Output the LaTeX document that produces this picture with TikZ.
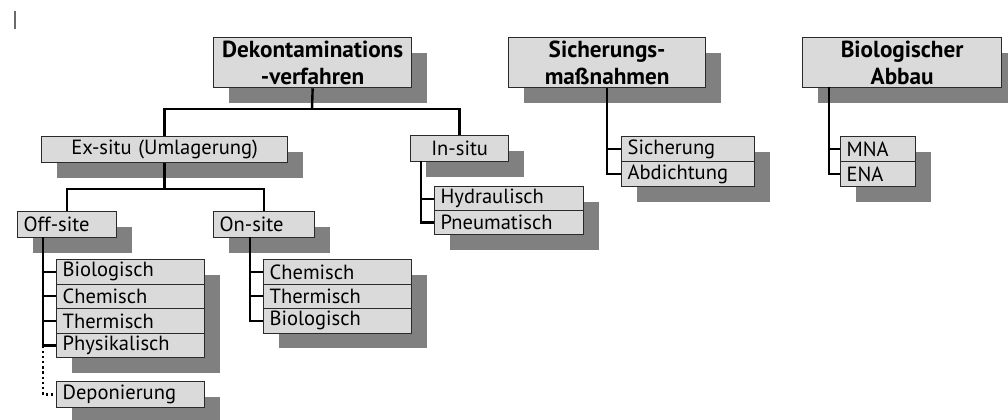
\documentclass[tikz,border=0pt]{standalone}
\usepackage{fontspec}
\setmainfont{PT Sans}
\usetikzlibrary{positioning, shadows}
\definecolor{boxfill}{HTML}{DADADA}
\definecolor{boxline}{HTML}{2A2A2A}
\definecolor{shadowgray}{HTML}{808080}

\begin{document}
\begin{tikzpicture}[x=0.025cm, y=-0.025cm,
  box/.style={draw=boxline, line width=0.9pt, fill=boxfill, anchor=north west, inner ysep=0pt,
    general shadow={fill=shadowgray, shadow xshift=10.6pt, shadow yshift=-10.6pt}},
  head/.style={box, font=\bfseries\fontsize{16.5}{19}\selectfont, align=center, inner xsep=0pt,
    text width=#1, minimum height=1.25cm},
  cat/.style={box, font=\fontsize{14.6}{16}\selectfont, inner xsep=0.15cm, text width=#1, minimum height=0.65cm},
  ele/.style={box, font=\fontsize{14.6}{16}\selectfont, inner xsep=0.15cm, align=left, text width=#1, minimum height=0.6125cm},
  conn/.style={line width=1.7pt, black},
  tick/.style={line width=1.4pt, black}]
  \useasboundingbox (0,0) rectangle (1008,420);
  \draw[line width=1.3pt, boxline!70] (15,11) -- (15,29);

  % top level
  \node[head=4.95cm] (dekon) at (213,37) {Dekontaminations\\-verfahren};
  \node[head=4.925cm] (sich) at (508,37) {Sicherungs-\\maßnahmen};
  \node[head=4.975cm] (bio) at (802,37) {Biologischer\\Abbau};

  % second level
  \node[cat=5.85cm, align=center] (exsitu) at (41,136) {Ex-situ (Umlagerung)};
  \node[cat=2.15cm, align=center] (insitu) at (410,135) {In-situ};
  \node[cat=2.175cm, align=left] (offsite) at (17,211) {Off-site};
  \node[cat=2.225cm, align=left] (onsite) at (213,211) {On-site};

  % lists
  \node[ele=3.4cm] (off1) at (56,259) {Biologisch};
  \node[ele=3.4cm] (off2) at (56,283.5) {Chemisch};
  \node[ele=3.4cm] (off3) at (56,308) {Thermisch};
  \node[ele=3.4cm] (off4) at (56,332.5) {Physikalisch};
  \node[ele=3.4cm, minimum height=0.65cm] (depo) at (56,381) {Deponierung};

  \node[ele=3.4cm] (on1) at (263,259) {Chemisch};
  \node[ele=3.4cm] (on2) at (263,283.5) {Thermisch};
  \node[ele=3.4cm] (on3) at (263,308) {Biologisch};

  \node[ele=3.425cm, minimum height=0.6cm] (in1) at (434,186) {Hydraulisch};
  \node[ele=3.425cm, minimum height=0.6cm] (in2) at (434,210) {Pneumatisch};

  \node[ele=3.025cm, minimum height=0.625cm] (sich1) at (621,136) {Sicherung};
  \node[ele=3.025cm, minimum height=0.625cm] (sich2) at (621,161) {Abdichtung};

  \node[ele=1.575cm, minimum height=0.625cm] (bio1) at (840,136) {MNA};
  \node[ele=1.575cm, minimum height=0.625cm] (bio2) at (840,161) {ENA};

  % connectors
  \coordinate (dekonsplit) at (312,109);
  \coordinate (exsplit) at (165,189);
  \coordinate (offtrunk) at (43,237);
  \coordinate (ontrunk) at (250,237);
  \coordinate (intrunk) at (421,161);
  \coordinate (biotrunk) at (829,87);

  \draw[conn] (dekon.south) -- (dekonsplit);
  \draw[conn] (exsitu.north) |- (dekonsplit) -| (insitu.north);
  \draw[conn] (exsitu.south) -- (exsitu.south |- exsplit);
  \draw[conn] (offsite.north) |- (exsplit) -| (onsite.north);

  \draw[conn] (offtrunk) -- (offtrunk |- off4.west) -- (off4.west);
  \foreach \n in {off1, off2, off3} \draw[tick] (offtrunk |- \n.west) -- (\n.west);
  \draw[conn, dotted] (offtrunk |- off4.west) |- (depo.west);

  \draw[conn] (ontrunk) -- (ontrunk |- on3.west) -- (on3.west);
  \foreach \n in {on1, on2} \draw[tick] (ontrunk |- \n.west) -- (\n.west);

  \draw[conn] (intrunk) -- (intrunk |- in2.west) -- (in2.west);
  \draw[tick] (intrunk |- in1.west) -- (in1.west);

  \draw[conn] (sich.south) -- (sich.south |- sich2.west) -- (sich2.west);
  \draw[tick] (sich.south |- sich1.west) -- (sich1.west);

  \draw[conn] (biotrunk) -- (biotrunk |- bio2.west) -- (bio2.west);
  \draw[tick] (biotrunk |- bio1.west) -- (bio1.west);
\end{tikzpicture}
\end{document}
